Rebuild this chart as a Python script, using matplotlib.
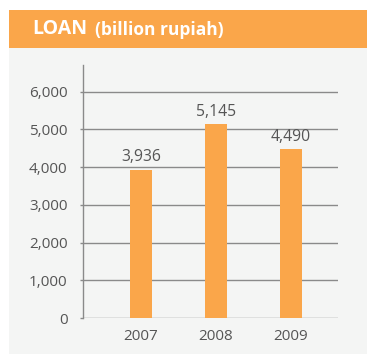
import matplotlib
matplotlib.use("Agg")
import matplotlib.pyplot as plt
from matplotlib.patches import Rectangle
from matplotlib.ticker import FuncFormatter

years = ["2007", "2008", "2009"]
loans = [3936, 5145, 4490]
yticks = [0, 1000, 2000, 3000, 4000, 5000, 6000]

ORANGE = "#FAA64A"
PANEL = "#F4F5F4"
TEXT = "#555555"
GRID = "#8A8A8A"

plt.rcParams["font.family"] = ["Open Sans", "DejaVu Sans"]

W, H = 367, 354
fig = plt.figure(figsize=(W / 100, H / 100), dpi=100)
fig.patch.set_facecolor("white")

# background panel and header band
fig.patches.append(Rectangle((9 / W, 0), 1 - 9 / W, 1 - 48 / H,
                             transform=fig.transFigure, facecolor=PANEL,
                             edgecolor="none", zorder=0))
fig.patches.append(Rectangle((9 / W, 1 - 48 / H), 1 - 9 / W, 38 / H,
                             transform=fig.transFigure, facecolor=ORANGE,
                             edgecolor="none", zorder=0))
fig.text(32 / W, 1 - 29.5 / H, "LOAN", color="white", fontsize=14,
         fontweight="bold", va="center", ha="left")
fig.text(95 / W, 1 - 30 / H, "(billion rupiah)", color="white", fontsize=12.5,
         fontweight="bold", va="center", ha="left")

ax = fig.add_axes([83 / W, 1 - 318 / H, (338 - 83) / W, (318 - 65) / H])
ax.set_facecolor("none")
ax.set_zorder(5)

x = list(range(len(years)))
ax.bar(x, loans, width=0.3, color=ORANGE, zorder=3)
for xi, v in zip(x, loans):
    ax.text(xi, v + 110, f"{v:,}", ha="center", va="bottom",
            color=TEXT, fontsize=11.3)

ax.set_xlim(-0.77, 2.63)
ax.set_ylim(0, 6710)
ax.set_yticks(yticks)
ax.yaxis.set_major_formatter(FuncFormatter(lambda v, p: f"{int(v):,}"))
ax.set_xticks(x)
ax.set_xticklabels(years)

for v in yticks:
    ax.axhline(v, color=GRID, linewidth=1.0, zorder=1)

for s in ["top", "right", "bottom"]:
    ax.spines[s].set_visible(False)
ax.spines["left"].set_color(GRID)
ax.spines["left"].set_linewidth(1.0)

ax.tick_params(axis="y", length=2, width=1, color=GRID, pad=9,
               labelcolor=TEXT, labelsize=11)
ax.tick_params(axis="x", length=0, pad=8, labelcolor=TEXT, labelsize=11)

fig.savefig("out.png", dpi=100)
